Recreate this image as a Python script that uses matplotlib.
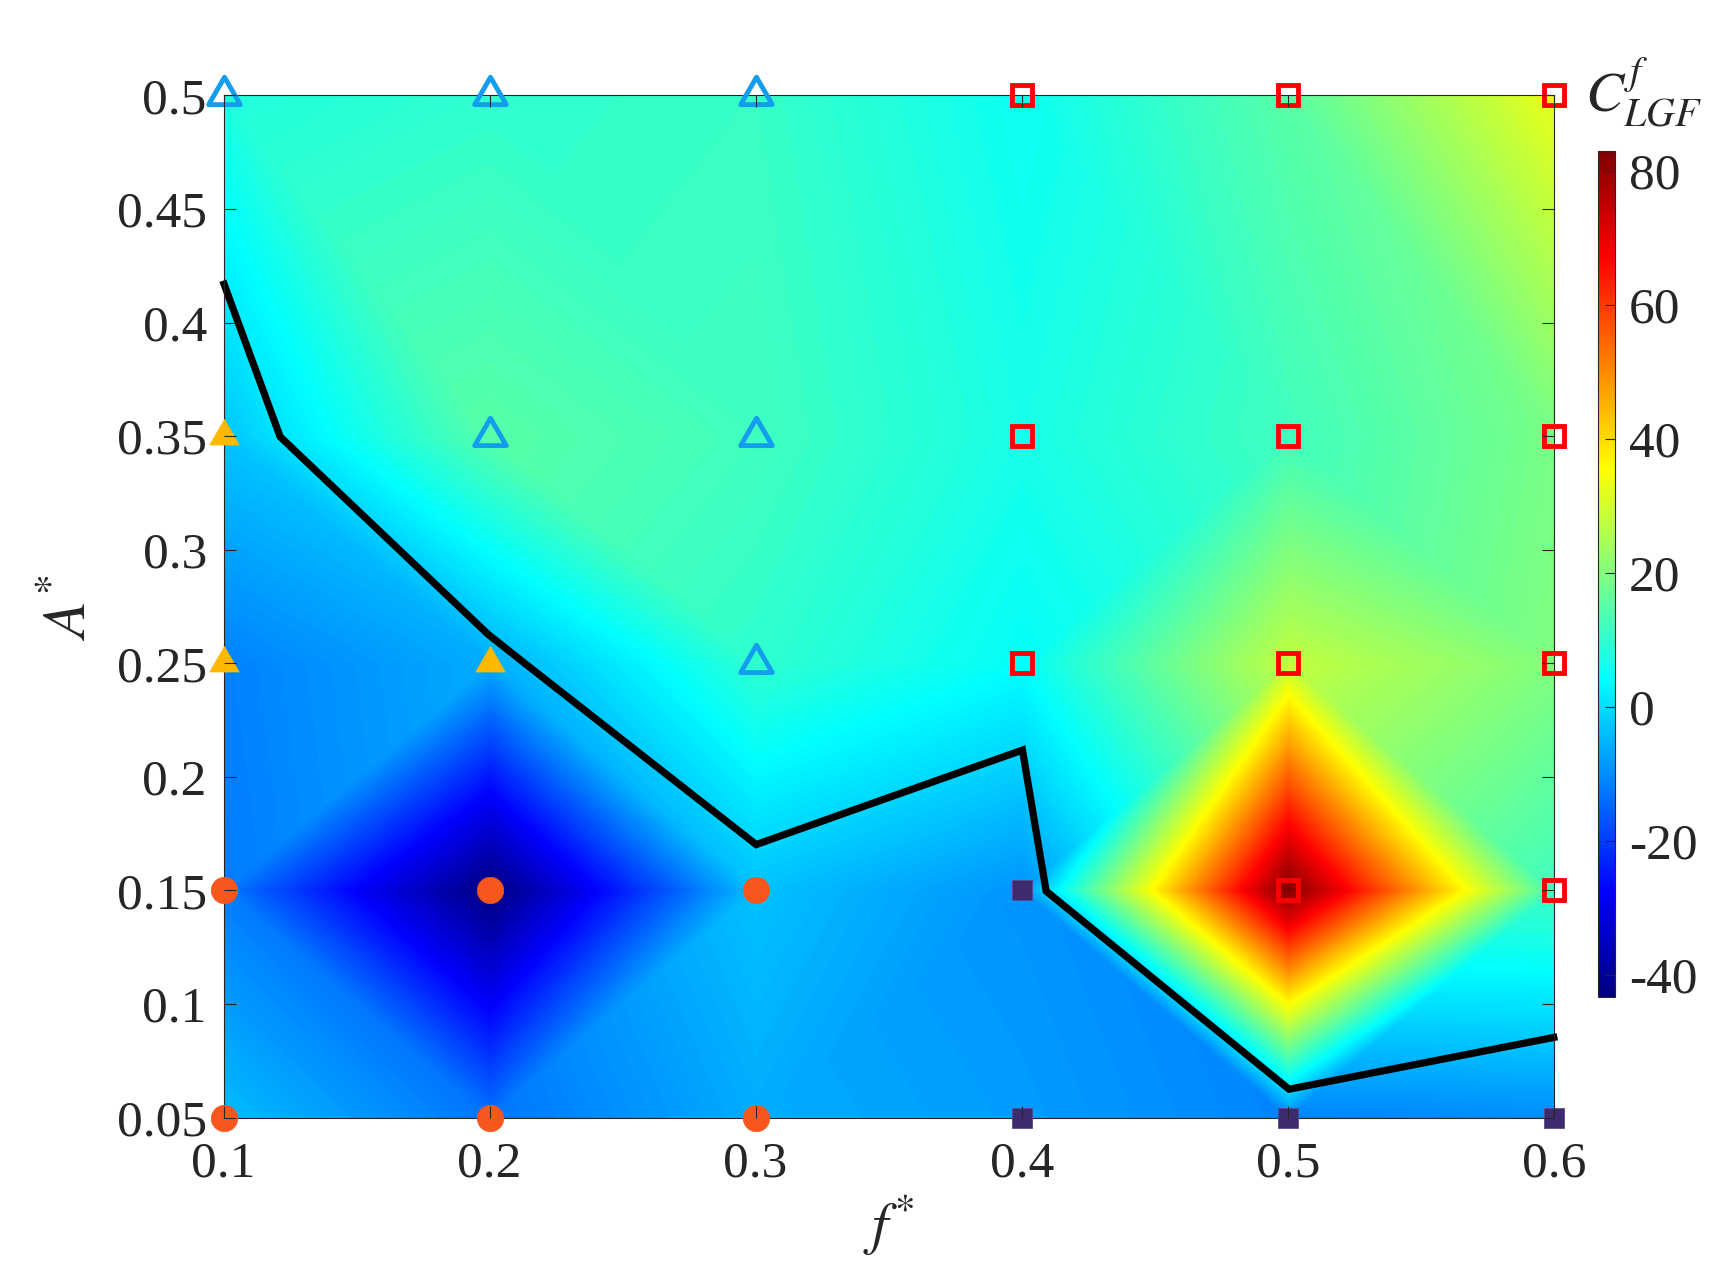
import numpy as np
import matplotlib
matplotlib.use("Agg")
import matplotlib.pyplot as plt
import matplotlib.tri as mtri
from matplotlib.path import Path
from matplotlib.colors import LinearSegmentedColormap

# ---------------- data ----------------
f_vals = [0.1, 0.2, 0.3, 0.4, 0.5, 0.6]
A_vals = [0.05, 0.15, 0.25, 0.35, 0.5]
# C_LGF^f values, one row per A* value (A* ascending)
C_A005 = [-4.0, -13.0, -6.0, -8.0, -11.0, -10.0]
C_A015 = [-12.0, -43.3, -3.5, -9.0, 83.0, 12.0]
C_A025 = [-11.4, -6.0, 10.0, 4.5, 28.0, 20.0]
C_A035 = [-3.0, 15.0, 12.0, 7.0, 12.0, 19.0]
C_A050 = [8.0, 10.0, 11.0, 5.5, 15.0, 33.0]

# regime boundary (black line)
bound_f = [0.1002, 0.1213, 0.1994, 0.2145, 0.3002, 0.4003, 0.4092, 0.5005, 0.6]
bound_A = [0.4169, 0.3497, 0.2628, 0.2488, 0.1702, 0.2118, 0.1497, 0.0625, 0.0853]

# marker classes
open_tri_f = [0.1, 0.2, 0.3, 0.2, 0.3, 0.3]
open_tri_A = [0.5, 0.5, 0.5, 0.35, 0.35, 0.25]
fill_tri_f = [0.1, 0.1, 0.2]
fill_tri_A = [0.35, 0.25, 0.25]
circ_f = [0.1, 0.2, 0.3, 0.1, 0.2, 0.3]
circ_A = [0.15, 0.15, 0.15, 0.05, 0.05, 0.05]
dsq_f = [0.4, 0.4, 0.5, 0.6]
dsq_A = [0.15, 0.05, 0.05, 0.05]
osq_f = [0.4, 0.5, 0.6, 0.4, 0.5, 0.6, 0.4, 0.5, 0.6, 0.5, 0.6]
osq_A = [0.5, 0.5, 0.5, 0.35, 0.35, 0.35, 0.25, 0.25, 0.25, 0.15, 0.15]

x_ticks = [0.1, 0.2, 0.3, 0.4, 0.5, 0.6]
x_ticklabels = ["0.1", "0.2", "0.3", "0.4", "0.5", "0.6"]
y_ticks = [0.05, 0.1, 0.15, 0.2, 0.25, 0.3, 0.35, 0.4, 0.45, 0.5]
y_ticklabels = ["0.05", "0.1", "0.15", "0.2", "0.25", "0.3", "0.35", "0.4", "0.45", "0.5"]
cb_ticks = [-40, -20, 0, 20, 40, 60, 80]
cb_ticklabels = ["-40", "-20", "0", "20", "40", "60", "80"]

# ---------------- style ----------------
plt.rcParams['font.family'] = ['Liberation Serif', 'DejaVu Serif']
plt.rcParams['mathtext.fontset'] = 'stix'
plt.rcParams['axes.unicode_minus'] = False
TXT = '#262626'

jet_m = LinearSegmentedColormap.from_list(
    'jet_matlab',
    [(0.0, (0, 0, 0.5)), (1/8, (0, 0, 1)), (3/8, (0, 1, 1)),
     (5/8, (1, 1, 0)), (7/8, (1, 0, 0)), (1.0, (0.5, 0, 0))], N=256)

# ---------------- field ----------------
Z = np.array([C_A005, C_A015, C_A025, C_A035, C_A050])
F, A = np.meshgrid(f_vals, A_vals)
px, py, pz = F.ravel(), A.ravel(), Z.ravel()
nf, nA = len(f_vals), len(A_vals)
tris = []
for j in range(nA - 1):
    for i in range(nf - 1):
        bl = j * nf + i
        br = bl + 1
        tl = bl + nf
        tr = tl + 1
        if abs(pz[bl] - pz[tr]) <= abs(pz[tl] - pz[br]):
            tris += [[bl, br, tr], [bl, tr, tl]]
        else:
            tris += [[bl, br, tl], [br, tr, tl]]
tri = mtri.Triangulation(px, py, np.array(tris))
interp = mtri.LinearTriInterpolator(tri, pz)
gx = np.linspace(min(f_vals), max(f_vals), 1200)
gy = np.linspace(min(A_vals), max(A_vals), 1000)
GX, GY = np.meshgrid(gx, gy)
GZ = np.asarray(interp(GX, GY))

vmin, vmax = float(Z.min()), float(Z.max())

fig = plt.figure(figsize=(17.18, 12.63), dpi=100)
ax = fig.add_axes([0.1301, 0.1151, 0.7743, 0.8094])
im = ax.imshow(GZ, origin='lower', extent=[min(f_vals), max(f_vals), min(A_vals), max(A_vals)],
               aspect='auto', cmap=jet_m, vmin=vmin, vmax=vmax, interpolation='nearest', zorder=0)

ax.plot(bound_f, bound_A, color='black', lw=5.2, solid_joinstyle='miter', zorder=2.0, clip_on=False)

# equilateral triangle centred on its centroid (closed path)
tri_marker = Path([(-1, -0.57735), (1, -0.57735), (0, 1.1547), (-1, -0.57735)],
                  [Path.MOVETO, Path.LINETO, Path.LINETO, Path.CLOSEPOLY])
mk = dict(linestyle='none', clip_on=False, zorder=2.4)
ax.plot(open_tri_f, open_tri_A, marker=tri_marker, ms=26.3, mfc='none', mec='#139DEE', mew=3.5, **mk)
ax.plot(fill_tri_f, fill_tri_A, marker=tri_marker, ms=24.5, mfc='#FFB800', mec='#FFB800', mew=0.5, **mk)
ax.plot(circ_f, circ_A, marker='o', ms=19.0, mfc='#F7571C', mec='#F7571C', mew=0.5, **mk)
ax.plot(dsq_f, dsq_A, marker='s', ms=14.2, mfc='#3D2B6E', mec='#5A4A8A', mew=0.6, **mk)
ax.plot(osq_f, osq_A, marker='s', ms=14.4, mfc='none', mec='#FF0000', mew=3.5, **mk)

ax.set_xlim(min(f_vals), max(f_vals))
ax.set_ylim(min(A_vals), max(A_vals))
ax.set_xticks(x_ticks)
ax.set_xticklabels(x_ticklabels)
ax.set_yticks(y_ticks)
ax.set_yticklabels(y_ticklabels)
ax.tick_params(axis='both', which='both', direction='in', length=8.3, width=0.8,
               colors=TXT, labelsize=37, top=True, right=True)
ax.tick_params(axis='x', pad=17)
ax.tick_params(axis='y', pad=12)
for s in ax.spines.values():
    s.set_linewidth(0.8)
    s.set_color(TXT)
    s.set_zorder(2.3)
ax.set_axisbelow(False)

ax.set_xlabel(r'$f^{*}$', fontsize=42, color=TXT, va='center')
ax.xaxis.set_label_coords(0.5, -0.106)
ax.set_ylabel(r'$A^{*}$', fontsize=43, color=TXT, va='center')
ax.yaxis.set_label_coords(-0.1154, 0.4985)

cax = fig.add_axes([0.9299, 0.2106, 0.0102, 0.6698])
cb = fig.colorbar(im, cax=cax, ticks=cb_ticks)
cb.set_ticklabels(cb_ticklabels)
cax.tick_params(direction='in', length=7, width=0.8, colors=TXT, labelsize=37, pad=10)
cb.outline.set_linewidth(0.8)
cb.outline.set_edgecolor(TXT)

fig.text(1585 / 1718, 1 - 111 / 1263, r'$C^{f}_{LGF}$', fontsize=41, color=TXT,
         ha='left', va='baseline')

fig.savefig('out.png', dpi=100)
